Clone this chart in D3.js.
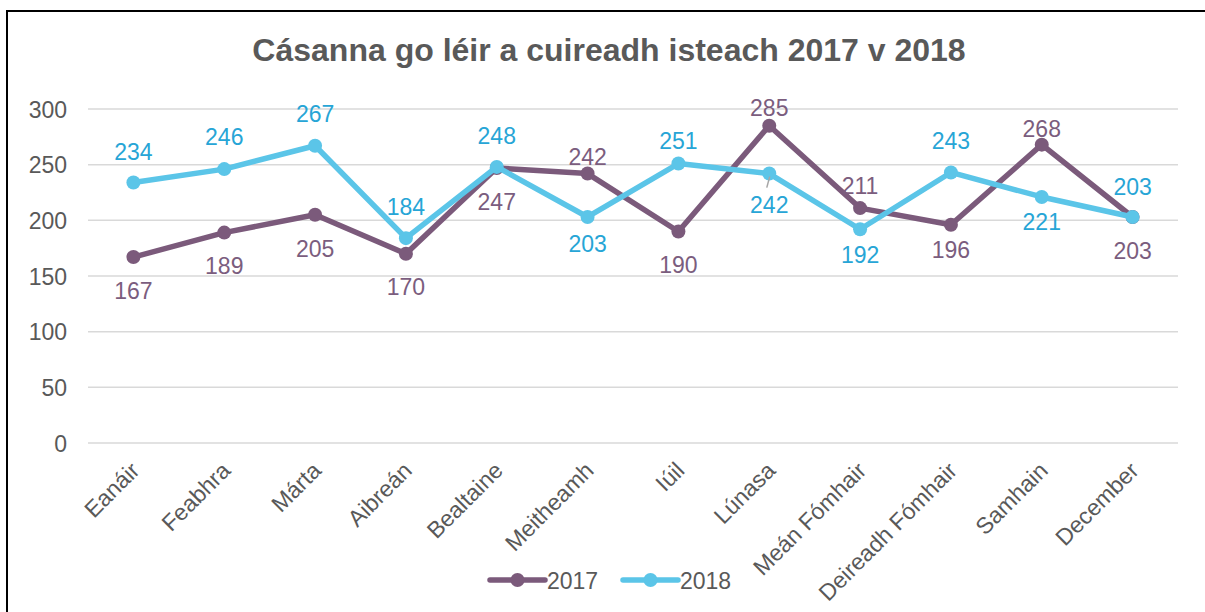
<!DOCTYPE html>
<html><head><meta charset="utf-8">
<script src="https://cdn.jsdelivr.net/npm/d3@7"></script>
<style>html,body{margin:0;padding:0;background:#fff;}svg{display:block;}</style>
</head><body>
<svg id="chart" width="1205" height="612"></svg>
<script>
const months = ["Eanáir","Feabhra","Márta","Aibreán","Bealtaine","Meitheamh","Iúil","Lúnasa","Meán Fómhair","Deireadh Fómhair","Samhain","December"];
const values2017 = [167,189,205,170,247,242,190,285,211,196,268,203];
const values2018 = [234,246,267,184,248,203,251,242,192,243,221,203];
const yTicks = [0,50,100,150,200,250,300];
const seriesNames = ["2017","2018"];
const title = "Cásanna go léir a cuireadh isteach 2017 v 2018";
// label placement offsets (px from point, label centre)
const labelDy2017 = [34,33,33.5,33,34,-16.7,33,-17.7,-22,24.7,-15.6,33.5];
const labelDy2018 = [-31,-32,-32,-31,-31.6,27,-23,31,26,-31.5,24.7,-30];

const svg = d3.select("#chart");
const FONT = "'Liberation Sans', Arial, sans-serif";
const FS = 23;
const C17 = "#7b5a7b", C18 = "#5bc5e8", L17 = "#7b5d7e", L18 = "#27a5d6", GREY = "#595959";

// border
svg.append("path").attr("d","M7,612 L7,11 L1205,11").attr("fill","none").attr("stroke","#000").attr("stroke-width",2);

svg.append("text").attr("x",609).attr("y",61).attr("text-anchor","middle")
  .attr("font-family",FONT).attr("font-weight","bold").attr("font-size",32).attr("fill",GREY).text(title);

const x = d3.scalePoint().domain(months).range([88,1178]).padding(0.5);
const y = d3.scaleLinear().domain([0,300]).range([443,109]);

// gridlines
svg.append("g").selectAll("line").data(yTicks).join("line")
  .attr("x1",88).attr("x2",1178).attr("y1",d=>y(d)).attr("y2",d=>y(d))
  .attr("stroke","#d9d9d9").attr("stroke-width",1.5);

// y axis
const yAxis = svg.append("g").attr("transform","translate(67,0)")
  .call(d3.axisLeft(y).tickValues(yTicks).tickSize(0).tickPadding(0));
yAxis.select(".domain").remove();
yAxis.selectAll("text").attr("font-family",FONT).attr("font-size",FS).attr("fill",GREY).attr("dy","0.35em");

// x axis labels
const xAxis = svg.append("g").attr("transform","translate(0,443)")
  .call(d3.axisBottom(x).tickSize(0).tickPadding(0));
xAxis.select(".domain").remove();
xAxis.selectAll("text").attr("font-family",FONT).attr("font-size",FS).attr("fill",GREY)
  .attr("text-anchor","end").attr("dy",0).attr("y",0)
  .attr("transform","translate(7,29) rotate(-45)");

const line = d3.line().x((d,i)=>x(months[i])).y(d=>y(d));
const series = [
  {name:seriesNames[0], vals:values2017, c:C17, lc:L17, dy:labelDy2017},
  {name:seriesNames[1], vals:values2018, c:C18, lc:L18, dy:labelDy2018}
];
series.forEach(s=>{
  svg.append("path").datum(s.vals).attr("d",line).attr("fill","none")
    .attr("stroke",s.c).attr("stroke-width",5.5).attr("stroke-linejoin","round");
  svg.append("g").selectAll("circle").data(s.vals).join("circle")
    .attr("cx",(d,i)=>x(months[i])).attr("cy",d=>y(d)).attr("r",7).attr("fill",s.c);
});
// leader line for Lúnasa 2018 label
{
  const i = months.indexOf("Lúnasa");
  const px = x(months[i]), py = y(values2018[i]);
  svg.append("line").attr("x1",px+0.5).attr("y1",py+3).attr("x2",px-2.5).attr("y2",py+14)
    .attr("stroke","#a6a6a6").attr("stroke-width",1.5);
}
series.forEach(s=>{
  svg.append("g").selectAll("text").data(s.vals).join("text")
    .attr("x",(d,i)=>x(months[i])).attr("y",(d,i)=>y(d)+s.dy[i]+0.358*FS)
    .attr("text-anchor","middle").attr("font-family",FONT).attr("font-size",FS).attr("fill",s.lc)
    .text(d=>d);
});

// legend
const legendX = [490,623];
series.forEach((s,k)=>{
  const g = svg.append("g").attr("transform",`translate(${legendX[k]},580)`);
  g.append("line").attr("x1",0).attr("x2",55).attr("y1",0).attr("y2",0).attr("stroke",s.c).attr("stroke-width",5.5).attr("stroke-linecap","round");
  g.append("circle").attr("cx",27.5).attr("cy",0).attr("r",7).attr("fill",s.c);
  g.append("text").attr("x",57).attr("y",8.5).attr("font-family",FONT).attr("font-size",FS).attr("fill",GREY).text(s.name);
});
</script>
</body></html>
